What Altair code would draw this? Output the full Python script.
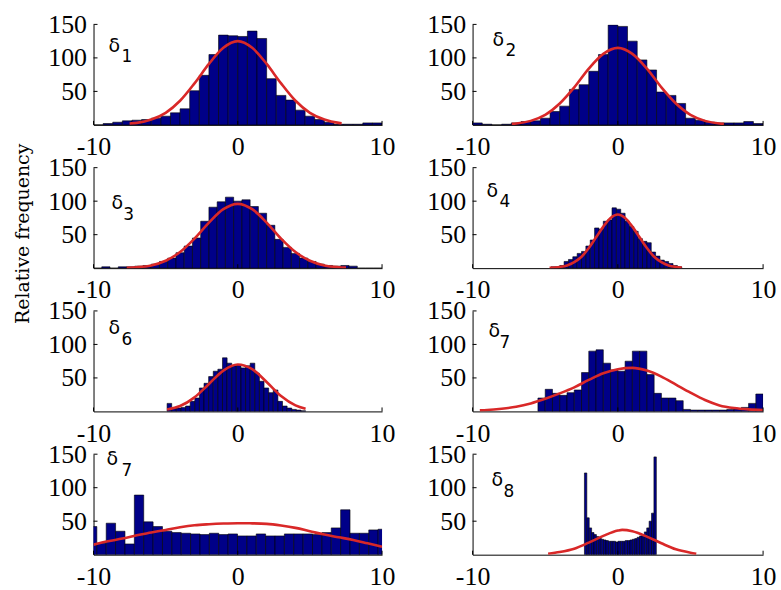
import altair as alt
import pandas as pd

# ---------------- data ----------------
X_TICKS = [-10, 0, 10]
Y_TICKS = [50, 100, 150]

subscripts = ["1", "2", "3", "4", "6", "7", "7", "8"]

bin_start = [-10.0, -10.0, -10.0, -4.6, -4.9, -5.5, -10.42, -2.3]
bin_width = [0.6667, 0.6667, 0.5714, 0.3, 0.32, 0.5, 0.65, 0.165]

counts_1 = [0, 2, 4, 6, 7, 8, 10, 13, 18, 24, 51, 74, 105, 134, 133, 132, 140, 129,
            69, 44, 37, 22, 13, 8, 4, 1, 1, 1, 3, 3]
counts_2 = [3, 1, 0, 1, 3, 5, 6, 10, 20, 28, 53, 60, 80, 105, 149, 147, 125, 97,
            82, 49, 44, 32, 10, 7, 4, 3, 3, 3, 5, 2]
counts_3 = [0, 2, 0, 2, 2, 3, 4, 6, 10, 15, 23, 33, 45, 70, 91, 99, 106, 100, 102,
            92, 82, 64, 43, 31, 22, 15, 10, 6, 4, 3, 4, 3, 0, 0, 0]
counts_4 = [2, 2, 4, 10, 13, 17, 22, 25, 33, 42, 60, 58, 70, 72, 90, 88, 82, 70,
            62, 55, 44, 40, 38, 24, 18, 12, 10, 7, 4, 2]
counts_5 = [12, 5, 5, 6, 8, 15, 20, 35, 42, 52, 60, 63, 80, 72, 68, 70, 65, 68,
            72, 57, 45, 35, 28, 32, 15, 8, 5, 3, 2, 1]
counts_6 = [20, 33, 27, 24, 28, 32, 58, 90, 92, 72, 62, 60, 75, 90, 90, 55, 27, 20,
            20, 16, 3, 2, 2, 2, 2, 2, 3, 4, 6, 12, 26]
counts_7 = [42, 17, 47, 35, 16, 89, 49, 42, 35, 33, 32, 31, 30, 32, 30, 31, 28, 28,
            31, 28, 28, 31, 31, 31, 30, 33, 40, 67, 32, 32, 37, 38]
counts_8 = [122, 55, 40, 33, 30, 27, 25, 23, 22, 21, 20, 20, 20, 19, 20, 20, 20, 21,
            21, 22, 23, 24, 26, 28, 30, 34, 40, 50, 62, 146]

curve_x_1 = [-7.5, -7, -6, -5, -4, -3, -2, -1, 0, 1, 2, 3, 4, 5, 6, 7, 7.2]
curve_y_1 = [2, 3, 8, 18, 36, 62, 91, 115, 125, 115, 91, 62, 36, 18, 8, 3, 2.5]
curve_x_2 = [-7.3, -7, -6, -5, -4, -3, -2, -1, 0, 1, 2, 3, 4, 5, 6, 7, 7.3]
curve_y_2 = [1.5, 2, 6, 15, 32, 56, 84, 106, 115, 106, 84, 56, 32, 15, 6, 2, 1.5]
curve_x_3 = [-7.7, -7, -6, -5, -4, -3, -2, -1, 0, 1, 2, 3, 4, 5, 6, 7, 7.5]
curve_y_3 = [0.7, 1.4, 4, 11, 24, 44, 68, 88, 96, 88, 68, 44, 24, 11, 4, 1.4, 0.8]
curve_x_4 = [-4.7, -4, -3.5, -3, -2.5, -2, -1.5, -1, -0.5, 0, 0.5, 1, 1.5, 2, 2.5,
             3, 3.5, 4, 4.4]
curve_y_4 = [0.5, 1.8, 4, 9, 17, 30, 46, 62, 75, 80, 75, 62, 46, 30, 17, 9, 4, 1.8, 0.8]
curve_x_5 = [-4.9, -4, -3, -2, -1, 0, 1, 2, 3, 4, 4.7]
curve_y_5 = [3, 8, 21, 41, 61, 70, 63, 44, 23, 9, 4]
curve_x_6 = [-9.5, -9, -8, -7, -6, -5, -4, -3, -2, -1, 0, 1, 2, 3, 4, 5, 6, 7, 8, 9, 10]
curve_y_6 = [1.5, 2, 4, 7, 12, 19, 27, 36, 47, 57, 63, 65, 61, 52, 40, 28, 17, 9, 5, 3, 2]
curve_x_7 = [-10, -9, -8, -7, -6, -5, -4, -3, -2, -1, 0, 1, 2, 3, 4, 5, 6, 7, 8, 9, 10]
curve_y_7 = [15, 20, 24, 29, 33, 37, 41, 44, 45.5, 46.5, 47, 46.8, 46, 43.5, 40, 35,
             30, 26, 22, 17, 12]
curve_x_8 = [-4.8, -4, -3, -2, -1, 0, 0.3, 1, 2, 3, 4, 5, 5.4]
curve_y_8 = [1.5, 4, 9, 18, 28, 36, 37, 35, 27, 17, 8, 3, 1.5]

counts = [counts_1, counts_2, counts_3, counts_4, counts_5, counts_6, counts_7, counts_8]
curves_x = [curve_x_1, curve_x_2, curve_x_3, curve_x_4, curve_x_5, curve_x_6, curve_x_7, curve_x_8]
curves_y = [curve_y_1, curve_y_2, curve_y_3, curve_y_4, curve_y_5, curve_y_6, curve_y_7, curve_y_8]

# ---------------- styling / layout ----------------
# (delta x, delta y, subscript x, subscript y) in pixels inside each panel
label_pos = [(15, 22, 28, 33), (20, 16, 33, 27), (18, 36, 30, 48), (14, 23, 27, 35),
             (15, 17, 28, 29), (16, 20, 27, 32), (13, 5, 28, 17), (19, 26, 31, 38)]
widths = [290, 292]
H = 101
BAR_FILL = "#000088"
RED = "#d92828"
TICK_FONT = "Liberation Serif"


def panel(i):
    w = widths[i % 2]
    start, bw = bin_start[i], bin_width[i]
    c = counts[i]
    bars_df = pd.DataFrame({
        "x": [start + k * bw for k in range(len(c))],
        "x2": [start + (k + 1) * bw for k in range(len(c))],
        "y": c,
    })
    curve_df = pd.DataFrame({"x": curves_x[i], "y": curves_y[i]})

    xscale = alt.Scale(domain=[-10, 10], nice=False, zero=False)
    yscale = alt.Scale(domain=[0, 150], nice=False)
    xaxis = alt.Axis(values=X_TICKS, title=None, grid=False, ticks=False,
                     labelFont=TICK_FONT, labelFontSize=26, labelPadding=9,
                     labelColor="black", domainColor="black", domainWidth=1,
                     labelFlush=False, labelOverlap=False,
                     labelExpr="replace(datum.label, '\u2212', '-')")
    ytitle = "Relative frequency" if i == 2 else None
    yaxis_kw = dict(values=Y_TICKS, grid=False, ticks=False,
                    labelFont=TICK_FONT, labelFontSize=26, labelPadding=7,
                    labelColor="black", domainColor="black", domainWidth=1,
                    labelFlush=False, labelOverlap=False)
    if ytitle:
        yaxis = alt.Axis(title=ytitle, titleFont="DejaVu Serif", titleFontSize=19,
                         titleFontWeight="normal", titleColor="black",
                         titleX=-65, titleY=66, titleAngle=270, titleAlign="center",
                         titleBaseline="alphabetic", **yaxis_kw)
    else:
        yaxis = alt.Axis(title=None, **yaxis_kw)

    bars = alt.Chart(bars_df).mark_rect(
        fill=BAR_FILL, stroke="black", strokeWidth=0.6, clip=True
    ).encode(
        x=alt.X("x:Q", scale=xscale, axis=xaxis),
        x2="x2:Q",
        y=alt.Y("y:Q", scale=yscale, axis=yaxis),
        y2=alt.datum(0),
    )
    curve = alt.Chart(curve_df).mark_line(
        color=RED, strokeWidth=2.6, interpolate="monotone", clip=True
    ).encode(
        x=alt.X("x:Q", scale=xscale, axis=xaxis),
        y=alt.Y("y:Q", scale=yscale, axis=yaxis),
    )
    yt = alt.Chart(pd.DataFrame({"y": Y_TICKS})).mark_rule(color="black").encode(
        y=alt.Y("y:Q", scale=yscale, axis=yaxis), x=alt.value(0), x2=alt.value(4)
    )
    xt = alt.Chart(pd.DataFrame({"x": X_TICKS})).mark_rule(color="black").encode(
        x=alt.X("x:Q", scale=xscale, axis=xaxis), y=alt.value(H), y2=alt.value(H - 4)
    )
    dx, dy, sx, sy = label_pos[i]
    delta = alt.Chart(pd.DataFrame({"t": ["δ"]})).mark_text(
        font="DejaVu Sans", fontSize=19, align="left", baseline="middle", color="black"
    ).encode(x=alt.value(dx), y=alt.value(dy), text="t:N")
    sub = alt.Chart(pd.DataFrame({"t": [subscripts[i]]})).mark_text(
        font="DejaVu Sans", fontSize=17, align="left", baseline="middle", color="black"
    ).encode(x=alt.value(sx), y=alt.value(sy), text="t:N")

    return alt.layer(bars, curve, yt, xt, delta, sub).properties(width=w, height=H)


chart = alt.concat(
    *[panel(i) for i in range(8)],
    columns=2,
    spacing={"row": 43, "column": 91},
    bounds="flush",
).properties(
    padding={"left": 14, "top": 10, "right": 5, "bottom": 5},
    background="white",
).configure_view(stroke=None)

chart.save("out.html", embed_options={"renderer": "svg", "actions": False})
